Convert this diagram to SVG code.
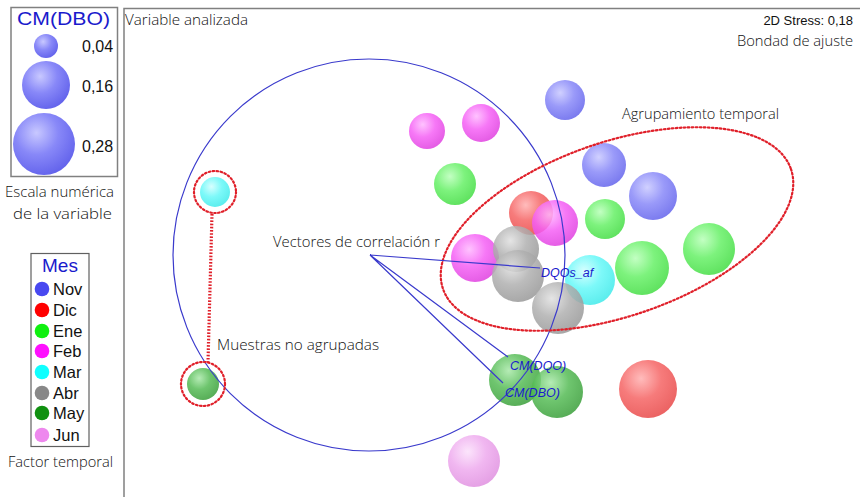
<svg xmlns="http://www.w3.org/2000/svg" width="860" height="497" viewBox="0 0 860 497">
<style>
.g{font-family:"Open Sans","Lato",sans-serif;font-weight:300;font-size:15px;fill:#111}
.a{font-family:"Liberation Sans",Arial,sans-serif;fill:#111}
.blue{fill:#1a1acc}
.lbl{font-family:"Liberation Sans",Arial,sans-serif;font-size:12.5px;font-style:italic;fill:#1a1acc}
.frame{fill:none;stroke:#808080;stroke-width:1.5}
.dot{fill:none;stroke:#e0202a;stroke-width:2.2;stroke-dasharray:1.6 2.4;stroke-linecap:round}
.vec{stroke:#3a3acc;stroke-width:1.2;fill:none}
.b{opacity:0.85}
</style>
<defs>
<radialGradient id="gB" cx="0.38" cy="0.32" r="0.7"><stop offset="0" stop-color="#c8c8ff"/><stop offset="0.5" stop-color="#8888f8"/><stop offset="1" stop-color="#6464ec"/></radialGradient>
<radialGradient id="gM" cx="0.38" cy="0.32" r="0.7"><stop offset="0" stop-color="#ffb8ff"/><stop offset="0.5" stop-color="#f560f5"/><stop offset="1" stop-color="#e040e0"/></radialGradient>
<radialGradient id="gG" cx="0.38" cy="0.32" r="0.7"><stop offset="0" stop-color="#b8ffb8"/><stop offset="0.5" stop-color="#66f066"/><stop offset="1" stop-color="#44dd44"/></radialGradient>
<radialGradient id="gR" cx="0.38" cy="0.32" r="0.7"><stop offset="0" stop-color="#ffb0b0"/><stop offset="0.5" stop-color="#f56464"/><stop offset="1" stop-color="#e84848"/></radialGradient>
<radialGradient id="gA" cx="0.38" cy="0.32" r="0.7"><stop offset="0" stop-color="#e0e0e0"/><stop offset="0.5" stop-color="#b0b0b0"/><stop offset="1" stop-color="#989898"/></radialGradient>
<radialGradient id="gC" cx="0.38" cy="0.32" r="0.7"><stop offset="0" stop-color="#d0ffff"/><stop offset="0.5" stop-color="#66f8f8"/><stop offset="1" stop-color="#40eaea"/></radialGradient>
<radialGradient id="gD" cx="0.38" cy="0.32" r="0.7"><stop offset="0" stop-color="#a8e8a8"/><stop offset="0.5" stop-color="#55bb55"/><stop offset="1" stop-color="#3a9f3a"/></radialGradient>
<radialGradient id="gJ" cx="0.38" cy="0.32" r="0.7"><stop offset="0" stop-color="#fbe0fb"/><stop offset="0.5" stop-color="#eeaaee"/><stop offset="1" stop-color="#e090e0"/></radialGradient>
</defs>
<rect width="860" height="497" fill="#fff"/>

<g id="plot-frame">
<path class="frame" d="M124,497 V8.5 H860"/>
</g>

<g id="legend-scale">
<rect x="11" y="7.5" width="106.5" height="169" fill="#fff" stroke="#808080" stroke-width="1.5"/>
<text class="a blue" x="17" y="25" font-size="17.5" textLength="93" lengthAdjust="spacingAndGlyphs">CM(DBO)</text>
<circle cx="46" cy="46" r="12" fill="url(#gB)"/>
<circle cx="46" cy="85" r="24" fill="url(#gB)"/>
<circle cx="44" cy="144" r="31" fill="url(#gB)"/>
<text class="a" x="82" y="52" font-size="16">0,04</text>
<text class="a" x="82" y="92" font-size="16">0,16</text>
<text class="a" x="82" y="152" font-size="16">0,28</text>
</g>
<text class="g" x="5" y="197" font-size="14" textLength="109" lengthAdjust="spacingAndGlyphs">Escala numérica</text>
<text class="g" x="13" y="219" font-size="14" textLength="99" lengthAdjust="spacingAndGlyphs">de la variable</text>

<g id="legend-mes">
<rect x="31" y="253.5" width="58" height="193" fill="#fff" stroke="#606060" stroke-width="1.2"/>
<text class="a blue" x="60" y="272" font-size="19" text-anchor="middle">Mes</text>
<g class="a" font-size="16.5">
<circle cx="42" cy="289" r="7.3" fill="#4848f0"/><text x="53" y="295">Nov</text>
<circle cx="42" cy="310" r="7.3" fill="#ff0000"/><text x="53" y="316">Dic</text>
<circle cx="42" cy="331" r="7.3" fill="#10f010"/><text x="53" y="337">Ene</text>
<circle cx="42" cy="351" r="7.3" fill="#ff10ff"/><text x="53" y="357">Feb</text>
<circle cx="42" cy="372" r="7.3" fill="#10ffff"/><text x="53" y="378">Mar</text>
<circle cx="42" cy="393" r="7.3" fill="#888888"/><text x="53" y="399">Abr</text>
<circle cx="42" cy="413" r="7.3" fill="#109010"/><text x="53" y="419">May</text>
<circle cx="42" cy="435" r="7.3" fill="#ee88ee"/><text x="53" y="441">Jun</text>
</g>
</g>
<text class="g" x="8" y="467" textLength="105" lengthAdjust="spacingAndGlyphs">Factor temporal</text>

<text class="g" x="125" y="25" font-size="16" textLength="123" lengthAdjust="spacingAndGlyphs">Variable analizada</text>
<text class="a" x="853" y="25" font-size="13" text-anchor="end">2D Stress: 0,18</text>
<text class="g" x="737" y="46" font-size="16" textLength="116" lengthAdjust="spacingAndGlyphs">Bondad de ajuste</text>

<g id="bubbles">
<circle class="b" cx="565" cy="100" r="20" fill="url(#gB)"/>
<circle class="b" cx="604" cy="165" r="22" fill="url(#gB)"/>
<circle class="b" cx="653" cy="196" r="24" fill="url(#gB)"/>
<circle class="b" cx="427" cy="131" r="18" fill="url(#gM)"/>
<circle class="b" cx="481" cy="123" r="19" fill="url(#gM)"/>
<circle class="b" cx="455" cy="184" r="21" fill="url(#gG)"/>
<circle class="b" cx="605" cy="219" r="20" fill="url(#gG)"/>
<circle class="b" cx="709" cy="249" r="26" fill="url(#gG)"/>
<circle class="b" cx="642" cy="268" r="27" fill="url(#gG)"/>
<circle class="b" cx="531" cy="213" r="22" fill="url(#gR)"/>
<circle class="b" cx="555" cy="223" r="23" fill="url(#gM)"/>
<circle class="b" cx="475" cy="258" r="24" fill="url(#gM)"/>
<circle class="b" cx="590" cy="280" r="25" fill="url(#gC)"/>
<circle class="b" cx="516" cy="249" r="23" fill="url(#gA)"/>
<circle class="b" cx="518" cy="276" r="26" fill="url(#gA)"/>
<circle class="b" cx="558" cy="308" r="26" fill="url(#gA)"/>
<circle class="b" cx="648" cy="389" r="29" fill="url(#gR)"/>
<circle class="b" cx="515" cy="380" r="26" fill="url(#gD)"/>
<circle class="b" cx="557" cy="392" r="26" fill="url(#gD)"/>
<circle class="b" cx="474" cy="461" r="26" fill="url(#gJ)"/>
<circle class="b" cx="215" cy="192" r="15" fill="url(#gC)"/>
<circle class="b" cx="203" cy="384" r="16" fill="url(#gD)"/>
</g>

<g id="connectors">
<circle cx="369" cy="255" r="196" fill="none" stroke="#3a3acc" stroke-width="1.2"/>
<ellipse class="dot" cx="617" cy="229" rx="184" ry="87" transform="rotate(-19 617 229)"/>
<circle class="dot" cx="215" cy="192" r="21"/>
<circle class="dot" cx="203" cy="384" r="22"/>
<path d="M212,214 L208,362" fill="none" stroke="#e0202a" stroke-width="3.2" stroke-dasharray="1.6 1.6"/>
<path class="vec" d="M370,255 L540,268 M370,255 L508,357 M370,255 L503,383"/>
</g>

<text class="lbl" x="541" y="277">DQOs_af</text>
<text class="lbl" x="510" y="370">CM(DQO)</text>
<text class="lbl" x="505" y="397">CM(DBO)</text>
<text class="g" x="273" y="247" textLength="167" lengthAdjust="spacingAndGlyphs">Vectores de correlación r</text>
<text class="g" x="217" y="350" textLength="162" lengthAdjust="spacingAndGlyphs">Muestras no agrupadas</text>
<text class="g" x="622" y="119" textLength="157" lengthAdjust="spacingAndGlyphs">Agrupamiento temporal</text>
</svg>
